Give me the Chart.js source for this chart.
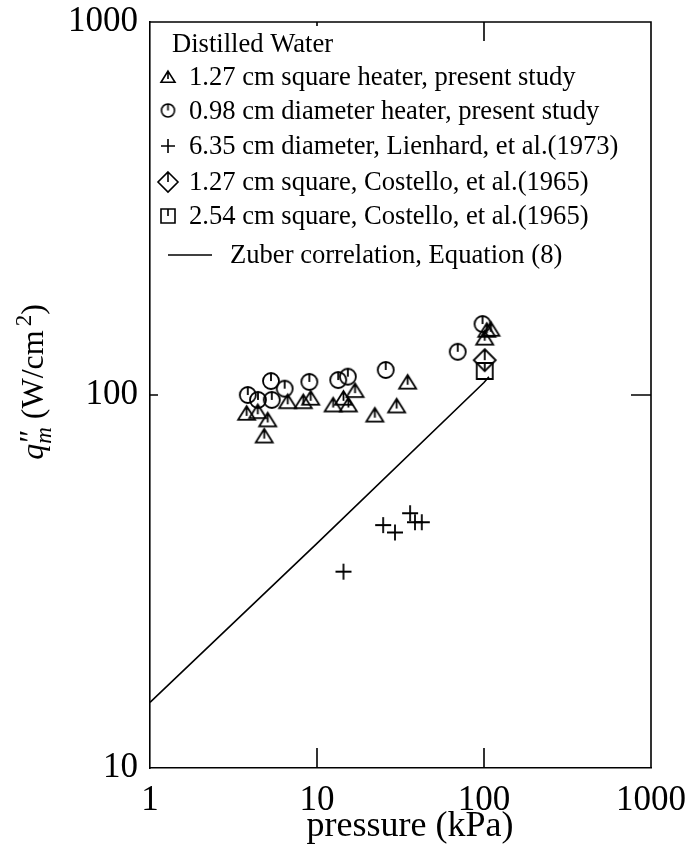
<!DOCTYPE html>
<html>
<head>
<meta charset="utf-8">
<script src="https://cdn.jsdelivr.net/npm/chart.js@4.4.0/dist/chart.umd.min.js"></script>
<style>
  body { margin: 0; background: #fff; }
  #wrap { width: 688px; height: 852px; }
</style>
</head>
<body>
<div id="wrap"><canvas id="chfChart" width="688" height="852"></canvas></div>
<script>
// pressure (kPa) / peak heat flux (W/cm^2)
const squareHeaterP = [3.79, 4.42, 5.07, 4.83, 6.68, 8.28, 9.17, 12.5, 14.4, 15.4, 16.9, 22.2, 30.0, 34.9, 101, 104, 110];
const squareHeaterQ = [89.3, 90.2, 85.7, 77.6, 95.9, 95.9, 98.0, 94.0, 98.0, 94.0, 102.7, 88.3, 93.4, 108.2, 142, 149, 150];

const roundHeaterP = [3.85, 4.43, 5.3, 5.36, 6.4, 9.0, 13.4, 15.3, 25.8, 69.6, 98];
const roundHeaterQ = [100, 97, 109, 97, 104, 108.4, 109.7, 112, 116.7, 130.6, 155];

const lienhardP = [14.4, 24.9, 29.3, 36.1, 38.6, 42.4];
const lienhardQ = [33.6, 44.8, 42.8, 48.2, 45.6, 45.6];

const costelloSmallP = [101];
const costelloSmallQ = [124];

const costelloLargeP = [101];
const costelloLargeQ = [116];

const zuberP = [1, 10, 100, 107];
const zuberQ = [15, 40, 108, 112];

const xTickValues = [1, 10, 100, 1000];
const yTickValues = [10, 100, 1000];

const legendTitle = 'Distilled Water';
const legendLabels = [
    '1.27 cm square heater, present study',
    '0.98 cm diameter heater, present study',
    '6.35 cm diameter, Lienhard, et al.(1973)',
    '1.27 cm square, Costello, et al.(1965)',
    '2.54 cm square, Costello, et al.(1965)',
    'Zuber correlation, Equation (8)'
];

const serif = '"Liberation Serif", "Times New Roman", serif';

// open markers with a little stem from the top down to the centre
function makeMarker(kind, size, lw) {
    const c = document.createElement('canvas');
    c.width = c.height = size + 6;
    const g = c.getContext('2d');
    const m = c.width / 2, h = size / 2;
    g.strokeStyle = '#000';
    g.lineWidth = lw;
    g.beginPath();
    if (kind === 'triangle') {
        g.moveTo(m, m - h * 0.85);
        g.lineTo(m + h, m + h * 0.75);
        g.lineTo(m - h, m + h * 0.75);
        g.closePath();
        g.moveTo(m, m - h * 0.85);
        g.lineTo(m, m + h * 0.3);
    } else if (kind === 'circle') {
        g.arc(m, m, h, 0, Math.PI * 2);
        g.moveTo(m, m - h);
        g.lineTo(m, m);
    } else if (kind === 'cross') {
        g.moveTo(m - h, m); g.lineTo(m + h, m);
        g.moveTo(m, m - h); g.lineTo(m, m + h);
    } else if (kind === 'diamond') {
        g.moveTo(m, m - h); g.lineTo(m + h, m); g.lineTo(m, m + h); g.lineTo(m - h, m);
        g.closePath();
        g.moveTo(m, m - h); g.lineTo(m, m);
    } else if (kind === 'square') {
        g.rect(m - h, m - h, size, size);
        g.moveTo(m, m - h); g.lineTo(m, m);
    }
    g.stroke();
    return c;
}

const plotMarkers = [
    makeMarker('triangle', 17, 1.8),
    makeMarker('circle', 16, 1.8),
    makeMarker('cross', 16, 1.8),
    makeMarker('diamond', 22, 1.8),
    makeMarker('square', 16, 1.8)
];
const keyMarkers = [
    makeMarker('triangle', 14, 1.6),
    makeMarker('circle', 13, 1.6),
    makeMarker('cross', 14, 1.6),
    makeMarker('diamond', 20, 1.6),
    makeMarker('square', 14, 1.6)
];

const toPoints = (xs, ys) => xs.map((v, i) => ({ x: v, y: ys[i] }));

const pointSets = [
    [squareHeaterP, squareHeaterQ],
    [roundHeaterP, roundHeaterQ],
    [lienhardP, lienhardQ],
    [costelloSmallP, costelloSmallQ],
    [costelloLargeP, costelloLargeQ]
];

const datasets = [{
    label: legendLabels[5],
    data: toPoints(zuberP, zuberQ),
    showLine: true,
    borderColor: '#000',
    borderWidth: 1.6,
    pointRadius: 0
}];
pointSets.forEach(([xs, ys], i) => {
    datasets.push({
        label: legendLabels[i],
        data: toPoints(xs, ys),
        pointStyle: plotMarkers[i],
        pointRadius: 8
    });
});

// frame, inward ticks, key and axis titles
const framePlugin = {
    id: 'frame',
    afterDraw(chart) {
        const ctx = chart.ctx;
        const a = chart.chartArea;
        const xs = chart.scales.x, ys = chart.scales.y;
        ctx.save();
        ctx.strokeStyle = '#000';
        ctx.lineWidth = 1.6;
        ctx.beginPath();
        ctx.moveTo(a.left, a.top); ctx.lineTo(a.right, a.top); ctx.lineTo(a.right, a.bottom);
        xTickValues.slice(1, -1).forEach(v => {
            const px = xs.getPixelForValue(v);
            ctx.moveTo(px, a.bottom); ctx.lineTo(px, a.bottom - 20);
            ctx.moveTo(px, a.top); ctx.lineTo(px, a.top + (v === 10 ? 4 : 19));
        });
        yTickValues.slice(1, -1).forEach(v => {
            const py = ys.getPixelForValue(v);
            ctx.moveTo(a.right, py); ctx.lineTo(a.right - 20, py);
            ctx.moveTo(a.left, py); ctx.lineTo(a.left + 8, py);
        });
        ctx.stroke();

        // key
        ctx.fillStyle = '#000';
        ctx.font = '26.6px ' + serif;
        ctx.textBaseline = 'alphabetic';
        ctx.textAlign = 'left';
        ctx.fillText(legendTitle, 172, 52);
        const baselines = [85, 118.5, 154, 190, 224, 263];
        keyMarkers.forEach((mk, i) => {
            const cy = baselines[i] - 8;
            ctx.drawImage(mk, 168 - mk.width / 2, cy - mk.height / 2);
            ctx.fillText(legendLabels[i], 189, baselines[i]);
        });
        ctx.beginPath();
        ctx.moveTo(168, 255); ctx.lineTo(212, 255);
        ctx.stroke();
        ctx.fillText(legendLabels[5], 230, 263);

        // x title
        ctx.font = '36px ' + serif;
        ctx.textAlign = 'center';
        ctx.fillText('pressure (kPa)', 410, 836);

        // y title, rotated, q''_m (W/cm^2)
        const big = '32px ' + serif, bigIt = 'italic 32px ' + serif;
        const small = '23px ' + serif, smallIt = 'italic 23px ' + serif;
        ctx.textAlign = 'left';
        const w = (f, t) => { ctx.font = f; return ctx.measureText(t).width; };
        const wq = w(bigIt, 'q'), wp = w(big, '\u2033'), wm = w(smallIt, 'm');
        const wa = w(big, ' (W/cm'), w2 = w(small, '2'), wc = w(big, ')');
        const total = wq + Math.max(wp, wm) + wa + 4 + w2 + wc;
        ctx.translate(43, 382);
        ctx.rotate(-Math.PI / 2);
        let x0 = -total / 2;
        ctx.font = bigIt; ctx.fillText('q', x0, 0); x0 += wq;
        ctx.font = big; ctx.fillText('\u2033', x0 + 1, -2);
        ctx.font = smallIt; ctx.fillText('m', x0, 8); x0 += Math.max(wp, wm);
        ctx.font = big; ctx.fillText(' (W/cm', x0, 0); x0 += wa + 4;
        ctx.font = small; ctx.fillText('2', x0, -12); x0 += w2;
        ctx.font = big; ctx.fillText(')', x0, 0);
        ctx.restore();
    }
};

new Chart(document.getElementById('chfChart'), {
    type: 'scatter',
    data: { datasets: datasets },
    options: {
        responsive: false,
        animation: false,
        layout: { padding: { top: 22, right: 37, left: 0, bottom: 0 } },
        plugins: {
            legend: { display: false },
            tooltip: { enabled: false }
        },
        scales: {
            x: {
                type: 'logarithmic',
                min: 1,
                max: 1000,
                afterBuildTicks: s => { s.ticks = xTickValues.map(v => ({ value: v })); },
                afterFit: s => { s.height = 84; s.paddingLeft = 0; s.paddingRight = 0; },
                grid: { display: false, drawTicks: false },
                border: { display: true, color: '#000', width: 1.6 },
                ticks: {
                    color: '#000',
                    font: { family: serif, size: 35 },
                    padding: 12,
                    maxRotation: 0,
                    autoSkip: false,
                    callback: v => String(v)
                }
            },
            y: {
                type: 'logarithmic',
                min: 10,
                max: 1000,
                afterBuildTicks: s => { s.ticks = yTickValues.map(v => ({ value: v })); },
                afterFit: s => { s.width = 150; s.paddingTop = 0; s.paddingBottom = 0; },
                grid: { display: false, drawTicks: false },
                border: { display: true, color: '#000', width: 1.6 },
                ticks: {
                    color: '#000',
                    font: { family: serif, size: 35 },
                    padding: 12,
                    autoSkip: false,
                    callback: v => String(v)
                }
            }
        }
    },
    plugins: [framePlugin]
});
</script>
</body>
</html>
